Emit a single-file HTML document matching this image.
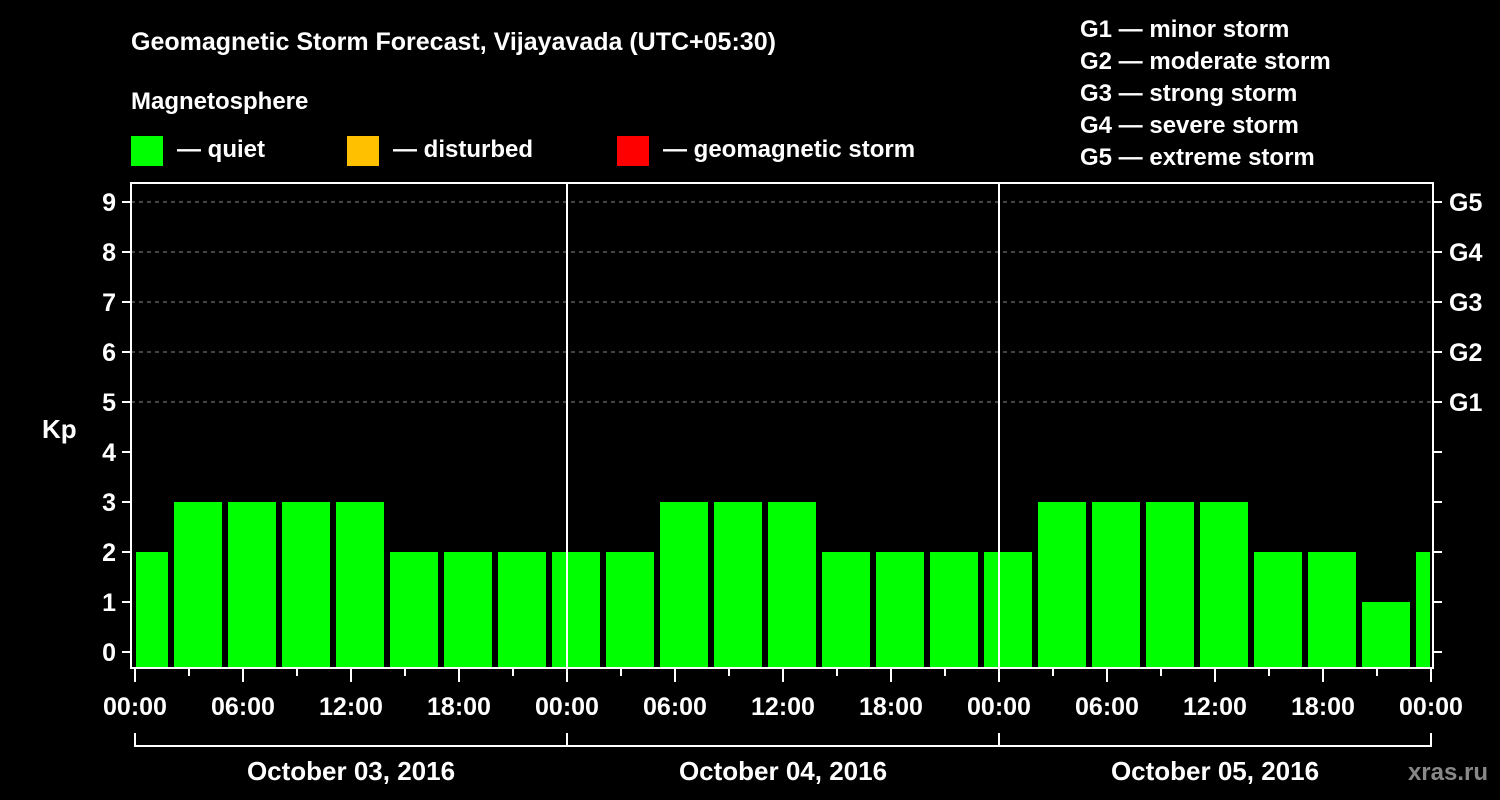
<!DOCTYPE html>
<html><head><meta charset="utf-8"><style>
html,body{margin:0;background:#000;}
svg{display:block;font-family:"Liberation Sans",sans-serif;font-weight:bold;}
</style></head><body>
<svg id="c" width="1500" height="800" viewBox="0 0 1500 800">
<rect width="1500" height="800" fill="#000"/>
<text x="131" y="50" fill="#fff" font-size="25">Geomagnetic Storm Forecast, Vijayavada (UTC+05:30)</text>
<text x="131" y="109" fill="#fff" font-size="24">Magnetosphere</text>
<g><rect x="131" y="136" width="32" height="30" fill="#00ff00"/><text x="177" y="157" fill="#fff" font-size="24">— quiet</text></g>
<g><rect x="347" y="136" width="32" height="30" fill="#ffc000"/><text x="393" y="157" fill="#fff" font-size="24">— disturbed</text></g>
<g><rect x="617" y="136" width="32" height="30" fill="#ff0000"/><text x="663" y="157" fill="#fff" font-size="24">— geomagnetic storm</text></g>
<g fill="#fff" font-size="24">
<text x="1080" y="37">G1 — minor storm</text><text x="1080" y="69">G2 — moderate storm</text><text x="1080" y="101">G3 — strong storm</text><text x="1080" y="133">G4 — severe storm</text><text x="1080" y="165">G5 — extreme storm</text></g>
<text x="42" y="438" fill="#fff" font-size="26">Kp</text>
<text x="1500" y="780" fill="#888" font-size="24" text-anchor="end" dx="-12">xras.ru</text>
<g id="plot"></g>
</svg>
<script>
const kpValues=[2,3,3,3,3,2,2,2,2,2,3,3,3,2,2,2,2,3,3,3,3,2,2,1,2];
const dayLabels=["October 03, 2016","October 04, 2016","October 05, 2016"];
const hourLabels=["00:00","06:00","12:00","18:00"];
const gLabels=["G1","G2","G3","G4","G5"];
const firstBinHours=2;
const L=131,R=1433,T=183,B=668,X0=135,PXH=18;
const xs=h=>X0+h*PXH;
const ys=v=>652-50*v;
const ns="http://www.w3.org/2000/svg";
const g=document.getElementById('plot');
function mk(t,a){const e=document.createElementNS(ns,t);for(const k in a)e.setAttribute(k,a[k]);g.appendChild(e);return e;}
// grid
for(let v=5;v<=9;v++){const e=mk('line',{x1:L,x2:R,y1:ys(v),y2:ys(v),stroke:'#888','stroke-dasharray':'4,4'});

}
// bars
kpValues.forEach((v,i)=>{
 let h0=i==0?0:firstBinHours+3*(i-1), h1=firstBinHours+3*i;
 let x0=xs(h0)+(i==0?1:3), x1=Math.min(xs(h1)-3,R-3);
 const col=v>=5?'#ff0000':(v>=4?'#ffc000':'#00ff00');
 const e=mk('rect',{x:x0,y:ys(v),width:x1-x0,height:B-ys(v),fill:col});
 
 
});
// day separators
for(let d=1;d<3;d++){const e=mk('line',{x1:xs(24*d),x2:xs(24*d),y1:T,y2:B,stroke:'#fff','stroke-width':2});

}
// frame
const f=mk('rect',{x:L,y:T,width:R-L,height:B-T,fill:'none',stroke:'#fff','stroke-width':2});


// y ticks
for(let v=0;v<=9;v++){
 mk('line',{x1:L-9,x2:L,y1:ys(v),y2:ys(v),stroke:'#fff','stroke-width':2});
 mk('line',{x1:R,x2:R+9,y1:ys(v),y2:ys(v),stroke:'#fff','stroke-width':2});
 const t=mk('text',{x:116,y:ys(v)+9,fill:'#fff','font-size':25,'text-anchor':'end'});t.textContent=v;
 
 
}
gLabels.forEach((s,i)=>{const t=mk('text',{x:1449,y:ys(5+i)+9,fill:'#fff','font-size':25});t.textContent=s;

});
// x ticks
for(let h=0;h<=72;h+=3){const big=h%6==0;mk('line',{x1:xs(h),x2:xs(h),y1:B,y2:B+(big?14:8),stroke:'#fff','stroke-width':2});}
for(let h=0;h<=72;h+=6){const t=mk('text',{x:xs(h),y:715,fill:'#fff','font-size':25,'text-anchor':'middle'});t.textContent=hourLabels[(h/6)%4];

}
// date bracket
mk('line',{x1:xs(0),x2:xs(72),y1:746,y2:746,stroke:'#fff','stroke-width':2});
for(let d=0;d<=3;d++)mk('line',{x1:xs(24*d),x2:xs(24*d),y1:733,y2:747,stroke:'#fff','stroke-width':2});
dayLabels.forEach((s,d)=>{const t=mk('text',{x:xs(24*d+12),y:780,fill:'#fff','font-size':26,'text-anchor':'middle'});t.textContent=s;

});
</script>
</body></html>
